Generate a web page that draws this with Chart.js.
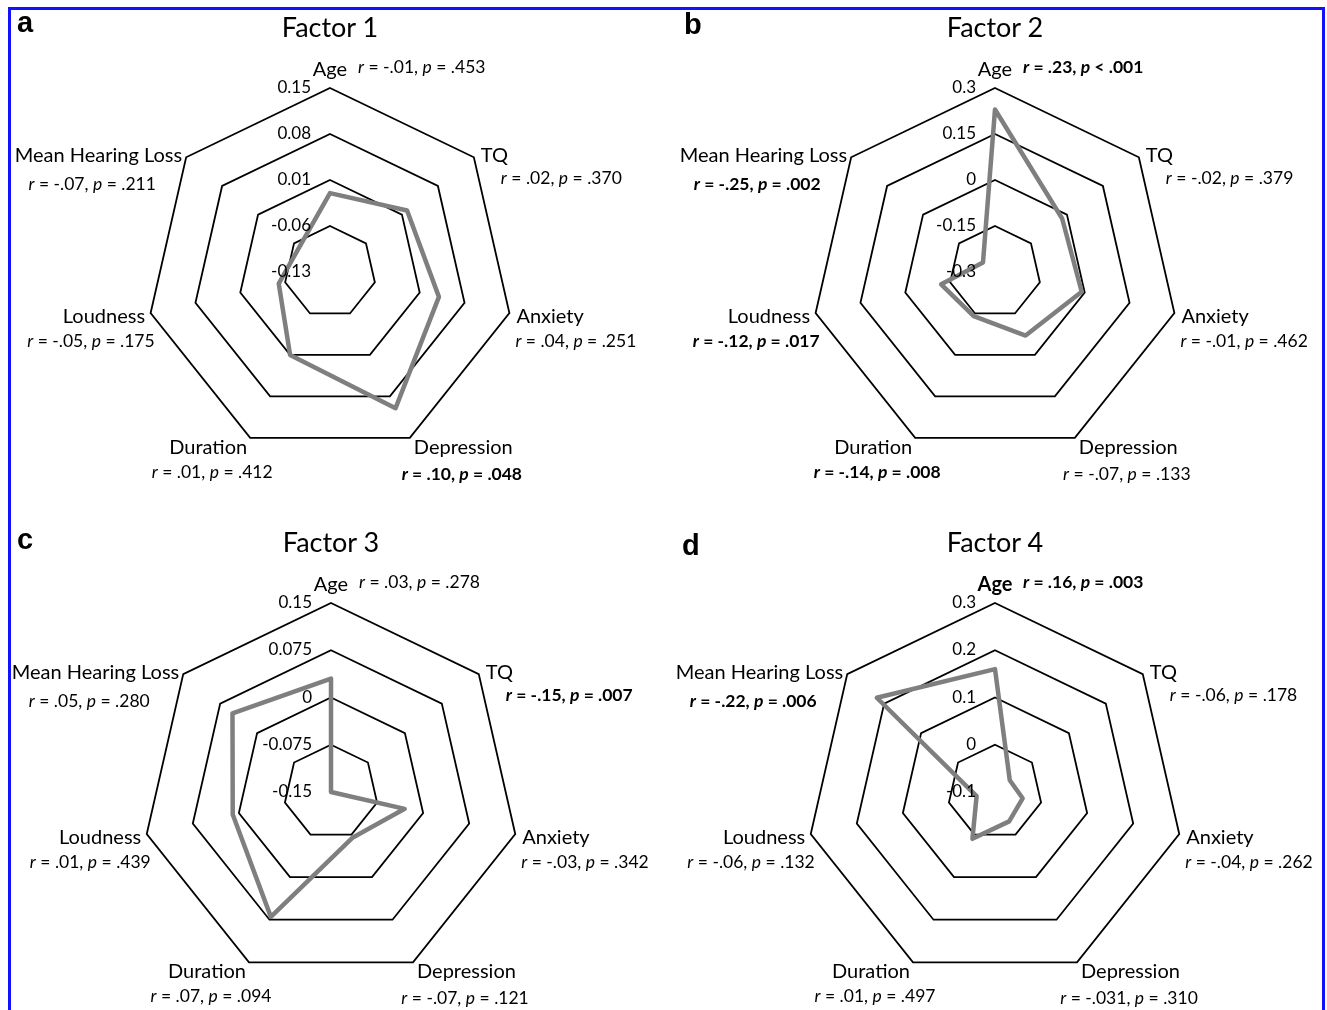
<!DOCTYPE html>
<html>
<head>
<meta charset="utf-8">
<script src="https://cdn.jsdelivr.net/npm/chart.js@4.4.1/dist/chart.umd.min.js"></script>
<style>
html,body{margin:0;padding:0;background:#fff;}
#page{position:relative;width:1327px;height:1010px;overflow:hidden;background:#fff;}
#frame{position:absolute;left:8px;top:7px;width:1317px;height:1100px;border:3px solid #1212ff;box-sizing:border-box;}
canvas{position:absolute;left:0;top:0;}
.t{position:absolute;white-space:nowrap;font-family:Lato,"Open Sans",sans-serif;color:#000;line-height:1;}
.name{font-size:20px;}
.stats{font-size:17.5px;}
.tick{font-size:17px;}
.title{font-size:27px;}
.letter{font-family:"Liberation Sans",Arial,sans-serif;font-weight:bold;font-size:29px;}
.b{font-weight:bold;}
</style>
</head>
<body>
<div id="page"><div id="frame"></div></div>
<script>
// ---------- data ----------
const categories = ["Age", "TQ", "Anxiety", "Depression", "Duration", "Loudness", "Mean Hearing Loss"];
const factorTitles = ["Factor 1", "Factor 2", "Factor 3", "Factor 4"];
const panelLetters = ["a", "b", "c", "d"];

// plotted values (as drawn in the figure)
const factor1Values = [-0.01, 0.02, 0.04, 0.10, 0.01, -0.05, -0.07];
const factor2Values = [0.23, -0.02, -0.01, -0.07, -0.14, -0.12, -0.25];
const factor3Values = [0.03, -0.15, -0.03, -0.07, 0.07, 0.01, 0.05];
const factor4Values = [0.16, -0.06, -0.04, -0.031, 0.01, -0.06, 0.22];

// r and p annotations
const factor1R = ["-.01", ".02", ".04", ".10", ".01", "-.05", "-.07"];
const factor1P = ["= .453", "= .370", "= .251", "= .048", "= .412", "= .175", "= .211"];
const factor1Sig = [false, false, false, true, false, false, false];

const factor2R = [".23", "-.02", "-.01", "-.07", "-.14", "-.12", "-.25"];
const factor2P = ["< .001", "= .379", "= .462", "= .133", "= .008", "= .017", "= .002"];
const factor2Sig = [true, false, false, false, true, true, true];

const factor3R = [".03", "-.15", "-.03", "-.07", ".07", ".01", ".05"];
const factor3P = ["= .278", "= .007", "= .342", "= .121", "= .094", "= .439", "= .280"];
const factor3Sig = [false, true, false, false, false, false, false];

const factor4R = [".16", "-.06", "-.04", "-.031", ".01", "-.06", "-.22"];
const factor4P = ["= .003", "= .178", "= .262", "= .310", "= .497", "= .132", "= .006"];
const factor4Sig = [true, false, false, false, false, false, true];
const factor4NameBold = [true, false, false, false, false, false, false];
const noNameBold = [false, false, false, false, false, false, false];

// radial tick values and labels
const factor1Ticks = [-0.13, -0.06, 0.01, 0.08, 0.15];
const factor1TickLabels = ["-0.13", "-0.06", "0.01", "0.08", "0.15"];
const factor2Ticks = [-0.3, -0.15, 0, 0.15, 0.3];
const factor2TickLabels = ["-0.3", "-0.15", "0", "0.15", "0.3"];
const factor3Ticks = [-0.15, -0.075, 0, 0.075, 0.15];
const factor3TickLabels = ["-0.15", "-0.075", "0", "0.075", "0.15"];
const factor4Ticks = [-0.1, 0, 0.1, 0.2, 0.3];
const factor4TickLabels = ["-0.1", "0", "0.1", "0.2", "0.3"];

// ---------- layout / style ----------
const W = 1327, H = 1010;
const panels = [
  {cx: 330, cy: 272, R: 184, titleY: 26, letterX: 17, letterY: 8,
   values: factor1Values, r: factor1R, p: factor1P, sig: factor1Sig, nb: noNameBold, ticks: factor1Ticks, tickLabels: factor1TickLabels},
  {cx: 995, cy: 272, R: 184, titleY: 26, letterX: 684, letterY: 10,
   values: factor2Values, r: factor2R, p: factor2P, sig: factor2Sig, nb: noNameBold, ticks: factor2Ticks, tickLabels: factor2TickLabels},
  {cx: 331, cy: 792, R: 189, titleY: 541, letterX: 17, letterY: 525,
   values: factor3Values, r: factor3R, p: factor3P, sig: factor3Sig, nb: noNameBold, ticks: factor3Ticks, tickLabels: factor3TickLabels},
  {cx: 995, cy: 792, R: 189, titleY: 541, letterX: 682, letterY: 531,
   values: factor4Values, r: factor4R, p: factor4P, sig: factor4Sig, nb: factor4NameBold, ticks: factor4Ticks, tickLabels: factor4TickLabels}
];
// label offsets relative to each outer vertex: name (nx,ny,na), stats (sx,sy,sa); align: 0 left, 0.5 center, 1 right
const labelLayout = [
  {nx: 0, ny: -20, na: 0.5, sx: 28, sy: -21, sa: 0},
  {nx: 7, ny: -3, na: 0, sx: 27, sy: 21, sa: 0},
  {nx: 7, ny: 2, na: 0, sx: 6, sy: 28, sa: 0},
  {nx: 4, ny: 8, na: 0, sx: 52, sy: 36, sa: 0.5},
  {nx: -3, ny: 8, na: 1, sx: -38, sy: 34, sa: 0.5},
  {nx: -5.5, ny: 2, na: 1, sx: 4, sy: 28, sa: 1},
  {nx: -4, ny: -3, na: 1, sx: -94, sy: 27, sa: 0.5}
];

const page = document.getElementById('page');

function addText(html, x, y, align, cls) {
  const d = document.createElement('div');
  d.className = 't ' + cls;
  d.innerHTML = html;
  d.style.left = x + 'px';
  d.style.top = y + 'px';
  d.style.transform = 'translate(' + (-align * 100) + '%, -50%)';
  page.appendChild(d);
  return d;
}

function statsHtml(r, p) {
  return '<i>r</i> = ' + r + ', <i>p</i> ' + p.replace('<', '&lt;');
}

panels.forEach((pn, i) => {
  const canvas = document.createElement('canvas');
  canvas.width = W; canvas.height = H;
  canvas.style.width = W + 'px'; canvas.style.height = H + 'px';
  page.appendChild(canvas);
  const tv = pn.ticks;
  const chart = new Chart(canvas, {
    type: 'radar',
    data: {
      labels: categories,
      datasets: [{
        data: pn.values,
        borderColor: '#7f7f7f',
        backgroundColor: 'rgba(0,0,0,0)',
        borderWidth: 4.5,
        borderJoinStyle: 'round',
        fill: false,
        pointRadius: 0,
        pointHoverRadius: 0,
        tension: 0
      }]
    },
    options: {
      responsive: false,
      animation: false,
      devicePixelRatio: 1,
      events: [],
      layout: {padding: {left: pn.cx - pn.R, top: pn.cy - pn.R, right: W - pn.cx - pn.R, bottom: H - pn.cy - pn.R}},
      plugins: {legend: {display: false}, tooltip: {enabled: false}, title: {display: false}},
      scales: {
        r: {
          min: tv[0], max: tv[tv.length - 1], beginAtZero: false,
          afterBuildTicks: (s) => { s.ticks = tv.map(v => ({value: v})); },
          ticks: {display: false},
          pointLabels: {display: false},
          angleLines: {display: false},
          grid: {color: '#000', lineWidth: 1.8}
        }
      }
    }
  });

  const s = chart.scales.r;
  // tick labels
  tv.forEach((v, k) => {
    const pt = s.getPointPositionForValue(0, v);
    addText(pn.tickLabels[k], pt.x - 19, pt.y - 2, 1, 'tick');
  });
  // point labels
  categories.forEach((name, k) => {
    const vtx = s.getPointPosition(k, s.drawingArea);
    const L = labelLayout[k];
    addText(name, vtx.x + L.nx, vtx.y + L.ny, L.na, 'name' + (pn.nb[k] ? ' b' : ''));
    addText(statsHtml(pn.r[k], pn.p[k]), vtx.x + L.sx, vtx.y + L.sy, L.sa, 'stats' + (pn.sig[k] ? ' b' : ''));
  });
  // title and panel letter
  addText(factorTitles[i], pn.cx, pn.titleY, 0.5, 'title');
  const lt = document.createElement('div');
  lt.className = 't letter';
  lt.textContent = panelLetters[i];
  lt.style.left = pn.letterX + 'px';
  lt.style.top = pn.letterY + 'px';
  page.appendChild(lt);
});
</script>
</body>
</html>
